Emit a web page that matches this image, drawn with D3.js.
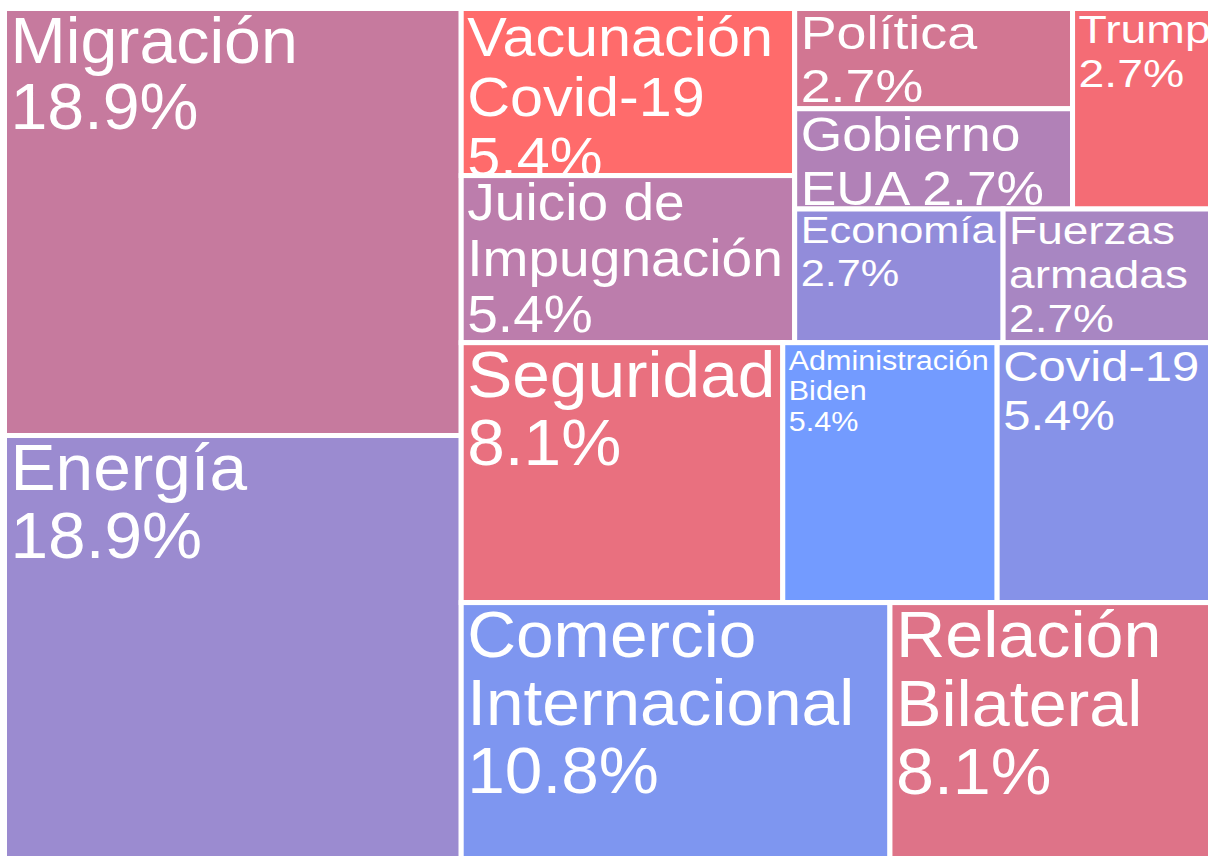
<!DOCTYPE html>
<html lang="es">
<head>
<meta charset="utf-8">
<title>Temas - treemap</title>
<script src="https://d3js.org/d3.v7.min.js"></script>
<style>
  body, html { margin: 0; padding: 0; background: #fff; overflow: hidden; }
  svg { display: block; }
  /* etiquetas blancas, estilo Arial */
  .cell-label { font-family: "Liberation Sans", Arial, Helvetica, sans-serif; fill: #fff; }
</style>
</head>
<body>
<div id="chart"></div>
<script>
// temas y número de menciones (37 en total)
const temas = ["Migración", "Energía", "Comercio Internacional", "Seguridad", "Relación Bilateral",
  "Vacunación Covid-19", "Juicio de Impugnación", "Administración Biden", "Covid-19",
  "Política", "Gobierno EUA", "Trump", "Economía", "Fuerzas armadas"];
const menciones = [7, 7, 4, 3, 3, 2, 2, 2, 2, 1, 1, 1, 1, 1];

// cortes de línea de cada etiqueta ({p} = porcentaje)
const lineas = [
  ["Migración", "{p}"], ["Energía", "{p}"], ["Comercio", "Internacional", "{p}"],
  ["Seguridad", "{p}"], ["Relación", "Bilateral", "{p}"], ["Vacunación", "Covid-19", "{p}"],
  ["Juicio de", "Impugnación", "{p}"], ["Administración", "Biden", "{p}"], ["Covid-19", "{p}"],
  ["Política", "{p}"], ["Gobierno", "EUA {p}"], ["Trump", "{p}"], ["Economía", "{p}"],
  ["Fuerzas", "armadas", "{p}"]
];

// anidamiento de filas/columnas del treemap
const grupos = [
  ["Migración", "Energía"],
  [
    [["Vacunación Covid-19", "Juicio de Impugnación"],
     [[["Política", "Gobierno EUA"], "Trump"], ["Economía", "Fuerzas armadas"]]],
    ["Seguridad", "Administración Biden", "Covid-19"],
    ["Comercio Internacional", "Relación Bilateral"]
  ]
];

// estilos: color de relleno, tamaño de fuente y estiramiento horizontal
const colores = {
  "Migración": "#c67a9e", "Energía": "#9b8bd0", "Comercio Internacional": "#7e96f0",
  "Seguridad": "#e9707f", "Relación Bilateral": "#de7388", "Vacunación Covid-19": "#ff6b6b",
  "Juicio de Impugnación": "#bc7dac", "Administración Biden": "#739bff", "Covid-19": "#8692e8",
  "Política": "#d27692", "Gobierno EUA": "#b181b7", "Trump": "#f46c75",
  "Economía": "#928cda", "Fuerzas armadas": "#a886c2"
};
const fuente = {
  "Migración": [65, 1.02], "Energía": [65, 1.04], "Comercio Internacional": [65, 1.04],
  "Seguridad": [65, 1.04], "Relación Bilateral": [65, 1.05], "Vacunación Covid-19": [56, 1.06],
  "Juicio de Impugnación": [52, 1.06], "Administración Biden": [27, 1.13], "Covid-19": [43, 1.14],
  "Política": [46, 1.17], "Gobierno EUA": [49, 1.09], "Trump": [38, 1.22],
  "Economía": [37, 1.17], "Fuerzas armadas": [38, 1.21]
};

const width = 1208, height = 856;
const total = d3.sum(menciones);
const valor = new Map(temas.map((t, i) => [t, menciones[i]]));
const pct = d3.format(".1%");

const svg = d3.select("#chart").append("svg")
    .attr("width", width)
    .attr("height", height);

const root = d3.hierarchy(grupos, d => Array.isArray(d) ? d : null)
    .sum(d => Array.isArray(d) ? 0 : valor.get(d));

d3.treemap()
    .tile(d3.treemapSliceDice)
    .size([1207, 854])
    .round(false)(root);

const g = svg.append("g").attr("transform", "translate(4.5,8.5)");

const cell = g.selectAll("g.cell")
  .data(root.leaves())
  .join("g")
    .attr("class", "cell");

cell.append("clipPath")
    .attr("id", (d, i) => "clip" + i)
  .append("rect")
    .attr("x", d => d.x0 + 2.5)
    .attr("y", d => d.y0 + 2.5)
    .attr("width", d => Math.max(0, d.x1 - d.x0 - 5))
    .attr("height", d => Math.max(0, d.y1 - d.y0 - 5));

cell.append("rect")
    .attr("x", d => d.x0)
    .attr("y", d => d.y0)
    .attr("width", d => d.x1 - d.x0)
    .attr("height", d => d.y1 - d.y0)
    .attr("fill", d => colores[d.data])
    .attr("stroke", "#fff")
    .attr("stroke-width", 5);

cell.append("g")
    .attr("clip-path", (d, i) => `url(#clip${i})`)
  .append("text")
    .attr("class", "cell-label")
    .attr("transform", d => {
      const [fs, sx] = fuente[d.data];
      return `translate(${d.x0 + 6},${d.y0 + 0.716 * fs + 7.5}) scale(${sx},1)`;
    })
    .style("font-size", d => fuente[d.data][0] + "px")
    .each(function(d) {
      const [fs, sx] = fuente[d.data];
      const p = pct(valor.get(d.data) / total);
      const ls = lineas[temas.indexOf(d.data)];
      d3.select(this).selectAll("tspan")
        .data(ls)
        .join("tspan")
          .attr("x", 0)
          .attr("y", (l, j) => j * fs * Math.min(sx, 1.15) * 1.01)
          .text(l => l.replace("{p}", p));
    });
</script>
</body>
</html>
